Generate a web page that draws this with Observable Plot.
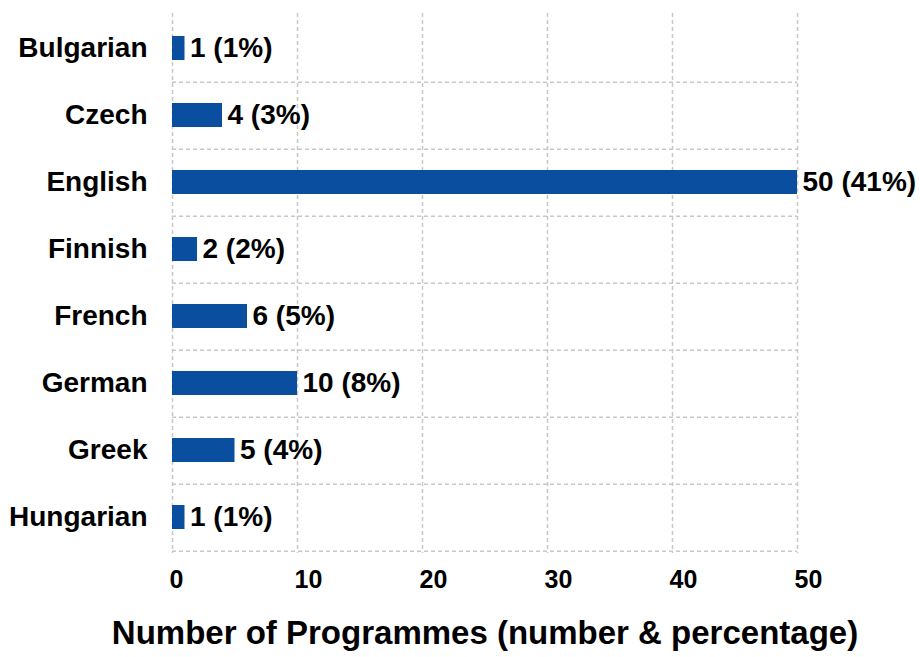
<!DOCTYPE html>
<html>
<head>
<meta charset="utf-8">
<script src="https://cdn.jsdelivr.net/npm/d3@7"></script>
<script src="https://cdn.jsdelivr.net/npm/@observablehq/plot@0.6"></script>
<style>
  html, body { margin: 0; padding: 0; background: #fff; }
  #chart svg { display: block; }
</style>
</head>
<body>
<div id="chart"></div>
<script>
const languages = ["Bulgarian", "Czech", "English", "Finnish", "French", "German", "Greek", "Hungarian"];
const counts = [1, 4, 50, 2, 6, 10, 5, 1];
const percents = [1, 3, 41, 2, 5, 8, 4, 1];
const xTicks = [0, 10, 20, 30, 40, 50];
const axisTitle = "Number of Programmes (number & percentage)";

const data = languages.map((lang, i) => ({lang, value: counts[i], pct: percents[i]}));

const W = 920, H = 657;
const mt = 13, mb = 104, ml = 172, mr = 123;
const step = (H - mt - mb) / languages.length;
const gridColor = "#c8c8c8";
const font = "'Liberation Sans', Arial, Helvetica, sans-serif";

const chart = Plot.plot({
  width: W,
  height: H,
  marginTop: mt,
  marginBottom: mb,
  marginLeft: ml,
  marginRight: mr,
  style: {fontFamily: font, color: "#000", background: "#fff", overflow: "visible"},
  x: {domain: [0, 50]},
  y: {domain: languages, paddingInner: 0.64, paddingOuter: 0.32},
  marks: [
    Plot.gridX(xTicks, {stroke: gridColor, strokeOpacity: 1, strokeWidth: 1.5, strokeDasharray: "4,3"}),
    Plot.ruleY(languages, {y: d => d, dy: step / 2, stroke: gridColor, strokeWidth: 1.5, strokeDasharray: "4,3"}),
    Plot.barX(data, {x: "value", y: "lang", fill: "#0a4f9f"}),
    Plot.text(data, {
      x: "value", y: "lang",
      text: d => `${d.value} (${d.pct}%)`,
      textAnchor: "start", dx: 5,
      fontSize: 28, fontWeight: "bold", fill: "#000"
    }),
    Plot.axisY({tickSize: 0, tickPadding: 25, fontSize: 28, fontWeight: "bold", label: null}),
    Plot.axisX(xTicks, {tickSize: 0, tickPadding: 17, fontSize: 25, fontWeight: "bold", textAnchor: "start", dx: -3, label: null}),
    Plot.text([axisTitle], {frameAnchor: "bottom", dy: 90, fontSize: 33, fontWeight: "bold", fill: "#000"})
  ]
});

document.getElementById("chart").appendChild(chart);
</script>
</body>
</html>
